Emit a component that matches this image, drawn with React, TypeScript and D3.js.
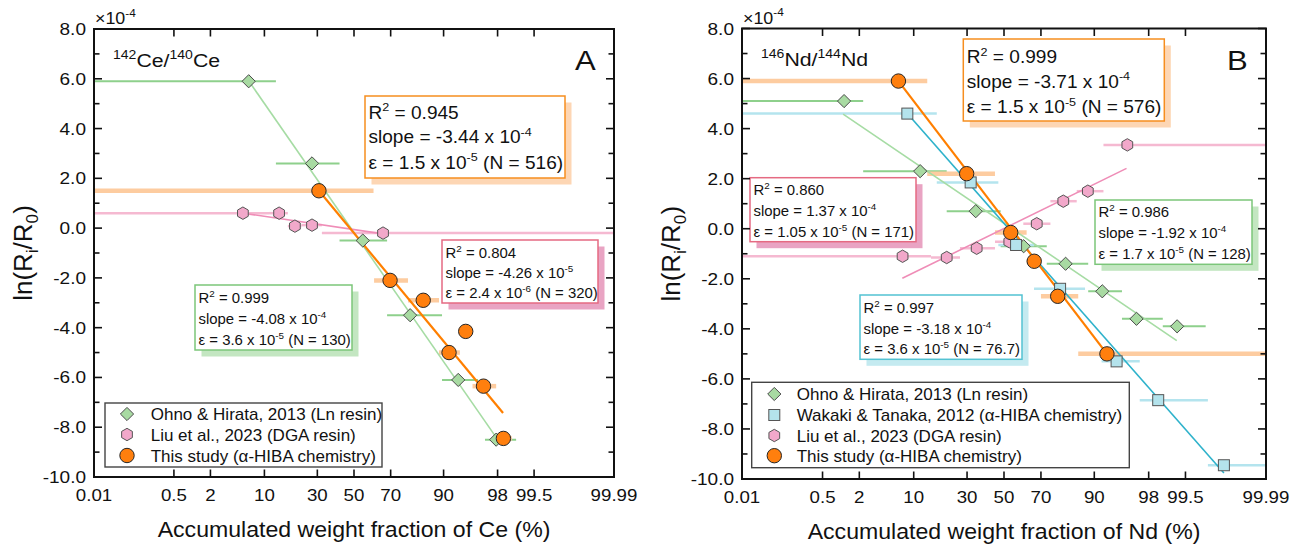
import React from "react";
import * as d3 from "d3";

// ---------- tick values ----------
const xTickValues = [0.01, 0.5, 2, 10, 30, 50, 70, 90, 98, 99.5, 99.99];
const xTickLabels = ["0.01", "0.5", "2", "10", "30", "50", "70", "90", "98", "99.5", "99.99"];
const yTickValues = [-10, -9, -8, -7, -6, -5, -4, -3, -2, -1, 0, 1, 2, 3, 4, 5, 6, 7, 8];
const yLabelValues = [-10, -8, -6, -4, -2, 0, 2, 4, 6, 8];

// ---------- Panel A: 142Ce/140Ce ----------
const ceOhnoX = [6.6, 27.4, 55.0, 78.9, 93.2, 97.9];
const ceOhnoY = [5.9, 2.6, -0.5, -3.5, -6.1, -8.5];
const ceOhnoLo = [0.01, 13.2, 41.8, 68.2, 89.6, 96.95];
const ceOhnoHi = [13.2, 41.8, 68.2, 89.6, 96.2, 98.98];
const ceOhnoFitX = [6.65, 98.16];
const ceOhnoFitY = [5.9, -8.63];

const ceLiuX = [5.6, 14.2, 19.9, 27.4, 66.1];
const ceLiuY = [0.6, 0.6, 0.08, 0.12, -0.2];
const ceLiuLo = [0.01, 11.2, 17.2, 22.6, 32.3];
const ceLiuHi = [11.2, 17.2, 22.6, 32.3, 99.99];
const ceLiuFitX = [5.6, 66.1];
const ceLiuFitY = [0.6, -0.23];

const ceThisX = [30.8, 69.7, 83.9, 91.3, 94.5, 96.8, 98.37];
const ceThisY = [1.5, -2.1, -2.9, -5.0, -4.15, -6.35, -8.45];
const ceThisLo = [0.01, 61.3, 78.0, 88.8, 93.5, 95.5, 97.9];
const ceThisHi = [61.0, 78.0, 88.8, 93.5, 95.5, 97.9, 98.8];
const ceThisFitX = [30.8, 98.35];
const ceThisFitY = [1.5, -7.43];

const ceThisStats = ["R^{2} = 0.945", "slope = -3.44 x 10^{-4}", "ε = 1.5 x 10^{-5} (N = 516)"];
const ceLiuStats = ["R^{2} = 0.804", "slope = -4.26 x 10^{-5}", "ε = 2.4 x 10^{-6} (N = 320)"];
const ceOhnoStats = ["R^{2} = 0.999", "slope = -4.08 x 10^{-4}", "ε = 3.6 x 10^{-5} (N = 130)"];

// ---------- Panel B: 146Nd/144Nd ----------
const ndOhnoX = [1.16, 11.7, 34.4, 61.0, 80.9, 91.85, 97.0, 99.3];
const ndOhnoY = [5.1, 2.3, 0.7, -0.7, -1.4, -2.5, -3.6, -3.9];
const ndOhnoLo = [0.01, 2.28, 20.8, 48.1, 72.8, 88.4, 95.3, 98.79];
const ndOhnoHi = [2.28, 20.8, 48.1, 72.8, 88.4, 95.3, 98.79, 99.79];
const ndOhnoFitX = [1.12, 99.29];
const ndOhnoFitY = [4.58, -4.47];

const ndWakakiX = [8.5, 31.8, 56.8, 78.7, 94.5, 98.57, 99.91];
const ndWakakiY = [4.6, 1.85, -0.65, -2.4, -5.3, -6.85, -9.45];
const ndWakakiLo = [0.01, 17.0, 46.8, 66.5, 91.7, 97.3, 99.81];
const ndWakakiHi = [17.0, 46.8, 66.5, 87.5, 97.3, 99.81, 99.99];
const ndWakakiFitX = [8.5, 99.91];
const ndWakakiFitY = [4.6, -9.76];

const ndLiuX = [7.5, 20.8, 34.9, 53.0, 67.9, 80.0, 88.3, 96.0];
const ndLiuY = [-1.1, -1.15, -0.78, -0.52, 0.2, 1.1, 1.5, 3.35];
const ndLiuLo = [0.01, 15.0, 26.6, 44.9, 60.8, 74.5, 84.9, 92.1];
const ndLiuHi = [15.0, 26.6, 44.9, 60.8, 74.5, 84.9, 92.1, 99.99];
const ndLiuFitX = [7.45, 95.9];
const ndLiuFitY = [-1.98, 2.41];

const ndThisX = [6.7, 29.8, 53.8, 66.6, 77.7, 92.8];
const ndThisY = [5.9, 2.2, -0.15, -1.3, -2.7, -5.0];
const ndThisLo = [0.01, 13.8, 44.9, 62.6, 70.0, 85.4];
const ndThisHi = [13.8, 44.9, 62.6, 70.0, 85.4, 99.99];
const ndThisFitX = [6.7, 92.8];
const ndThisFitY = [5.9, -5.0];

const ndThisStats = ["R^{2} = 0.999", "slope = -3.71 x 10^{-4}", "ε = 1.5 x 10^{-5} (N = 576)"];
const ndLiuStats = ["R^{2} = 0.860", "slope = 1.37 x 10^{-4}", "ε = 1.05 x 10^{-5} (N = 171)"];
const ndOhnoStats = ["R^{2} = 0.986", "slope = -1.92 x 10^{-4}", "ε = 1.7 x 10^{-5} (N = 128)"];
const ndWakakiStats = ["R^{2} = 0.997", "slope = -3.18 x 10^{-4}", "ε = 3.6 x 10^{-5} (N = 76.7)"];

const legendOhno = "Ohno & Hirata, 2013 (Ln resin)";
const legendWakaki = "Wakaki & Tanaka, 2012 (α-HIBA chemistry)";
const legendLiu = "Liu et al., 2023 (DGA resin)";
const legendThis = "This study (α-HIBA chemistry)";

// ---------- styles ----------
const FONT = '"Liberation Sans", Arial, Helvetica, sans-serif';
const STY: any = {
  ohno: { shape: "diamond", fill: "#A8DAA2", stroke: "#4a4a4a", bar: "#8ED08C", barW: 2, fit: "#A6DCA4", fitW: 1.6 },
  wakaki: { shape: "square", fill: "#B4E3EC", stroke: "#555", bar: "#B4E4EE", barW: 2.5, fit: "#2EB2CB", fitW: 1.6 },
  liu: { shape: "hex", fill: "#F2A8CA", stroke: "#555", bar: "#F5B9D1", barW: 2.5, fit: "#EF8DB7", fitW: 1.6 },
  this: { shape: "circle", fill: "#FF7F0E", stroke: "#262626", bar: "#FDCCA0", barW: 4.5, fit: "#FF7F00", fitW: 2.2 },
};
const BOX: any = {
  orange: { stroke: "#F68E1F", shadow: "#FDD6B4" },
  pink: { stroke: "#E56A82", shadow: "#E9A4C3" },
  green: { stroke: "#7CC67A", shadow: "#C3E6C1" },
  blue: { stroke: "#53C2D2", shadow: "#C4EAF0" },
};

// inverse normal CDF (probability axis)
function qnorm(p: number): number {
  const a = [-3.969683028665376e1, 2.209460984245205e2, -2.759285104469687e2, 1.38357751867269e2, -3.066479806614716e1, 2.506628277459239];
  const b = [-5.447609879822406e1, 1.615858368580409e2, -1.556989798598866e2, 6.680131188771972e1, -1.328068155288572e1];
  const c = [-7.784894002430293e-3, -3.223964580411365e-1, -2.400758277161838, -2.549732539343734, 4.374664141464968, 2.938163982698783];
  const d = [7.784695709041462e-3, 3.224671290700398e-1, 2.445134137142996, 3.754408661907416];
  const plow = 0.02425;
  if (p < plow) {
    const q = Math.sqrt(-2 * Math.log(p));
    return (((((c[0] * q + c[1]) * q + c[2]) * q + c[3]) * q + c[4]) * q + c[5]) / ((((d[0] * q + d[1]) * q + d[2]) * q + d[3]) * q + 1);
  }
  if (p <= 1 - plow) {
    const q = p - 0.5, r = q * q;
    return ((((((a[0] * r + a[1]) * r + a[2]) * r + a[3]) * r + a[4]) * r + a[5]) * q) / (((((b[0] * r + b[1]) * r + b[2]) * r + b[3]) * r + b[4]) * r + 1);
  }
  const q = Math.sqrt(-2 * Math.log(1 - p));
  return -(((((c[0] * q + c[1]) * q + c[2]) * q + c[3]) * q + c[4]) * q + c[5]) / ((((d[0] * q + d[1]) * q + d[2]) * q + d[3]) * q + 1);
}

function Rich({ x, y, size, sx = 1, anchor = "start", content, fill = "#111", rotate = 0, weight = "normal" }: any) {
  const parts = content.split(/(\^\{[^}]*\}|_\{[^}]*\})/).filter((s: string) => s.length);
  let pending = 0;
  const kids: any[] = [];
  parts.forEach((p: string, i: number) => {
    if (p.startsWith("^{")) {
      const sh = size * 0.42;
      kids.push(<tspan key={i} fontSize={size * 0.66} dy={pending - sh}>{p.slice(2, -1)}</tspan>);
      pending = sh;
    } else if (p.startsWith("_{")) {
      const sh = size * 0.22;
      kids.push(<tspan key={i} fontSize={size * 0.66} dy={pending + sh}>{p.slice(2, -1)}</tspan>);
      pending = -sh;
    } else {
      kids.push(<tspan key={i} dy={pending}>{p}</tspan>);
      pending = 0;
    }
  });
  const tr = rotate ? `translate(${x},${y}) rotate(${rotate}) scale(${sx},1)` : `translate(${x},${y}) scale(${sx},1)`;
  return (
    <text transform={tr} fontSize={size} textAnchor={anchor} fill={fill} fontFamily={FONT} fontWeight={weight}>
      {kids}
    </text>
  );
}

function Marker({ shape, cx, cy, fill, stroke }: any) {
  if (shape === "circle") return <circle cx={cx} cy={cy} r={7.2} fill={fill} stroke={stroke} strokeWidth={1} />;
  if (shape === "square") return <rect x={cx - 5.5} y={cy - 5.5} width={11} height={11} fill={fill} stroke={stroke} strokeWidth={1} />;
  if (shape === "diamond") {
    const s = 6.6;
    return <path d={`M${cx},${cy - s}L${cx + s},${cy}L${cx},${cy + s}L${cx - s},${cy}Z`} fill={fill} stroke={stroke} strokeWidth={1} />;
  }
  const r = 6.2;
  const pts = d3.range(6).map((k) => {
    const a = (Math.PI / 3) * k - Math.PI / 2;
    return [cx + r * Math.cos(a), cy + r * Math.sin(a)];
  });
  return <path d={"M" + pts.map((p) => p.join(",")).join("L") + "Z"} fill={fill} stroke={stroke} strokeWidth={1} />;
}

function Panel({ cfg }: any) {
  const { L, R, T, B } = cfg;
  const xs = d3.scaleLinear().domain([qnorm(0.0001), qnorm(0.9999)]).range([L, R]);
  const px = (p: number) => xs(qnorm(p / 100));
  const y = d3.scaleLinear().domain([-10, 8]).range([B, T]);
  const innerTicks = xTickValues.slice(1, -1);
  return (
    <g>
      {/* error bars */}
      {cfg.series.map((s: any, si: number) => (
        <g key={"b" + si}>
          {s.x.map((_: number, i: number) => (
            <line key={i} x1={px(s.lo[i])} x2={px(s.hi[i])} y1={y(s.y[i])} y2={y(s.y[i])} stroke={STY[s.k].bar} strokeWidth={STY[s.k].barW} />
          ))}
        </g>
      ))}
      {/* fits */}
      {cfg.series.map((s: any, si: number) => (
        <line key={"f" + si} x1={px(s.fx[0])} x2={px(s.fx[1])} y1={y(s.fy[0])} y2={y(s.fy[1])} stroke={STY[s.k].fit} strokeWidth={STY[s.k].fitW} />
      ))}
      {/* markers */}
      {cfg.series.map((s: any, si: number) => (
        <g key={"m" + si}>
          {s.x.map((v: number, i: number) => (
            <Marker key={i} shape={STY[s.k].shape} cx={px(v)} cy={y(s.y[i])} fill={STY[s.k].fill} stroke={STY[s.k].stroke} />
          ))}
        </g>
      ))}
      {/* annotation boxes */}
      {cfg.boxes.map((b: any, bi: number) => (
        <g key={"x" + bi}>
          <rect x={b.x + 6.5} y={b.y + 6.5} width={b.w} height={b.h} fill={BOX[b.c].shadow} />
          <rect x={b.x} y={b.y} width={b.w} height={b.h} fill="#fff" stroke={BOX[b.c].stroke} strokeWidth={1.5} />
          {b.lines.map((t: string, i: number) => (
            <Rich key={i} x={b.x + 3.5} y={b.base[i]} size={b.size} sx={b.sx} content={t} />
          ))}
        </g>
      ))}
      {/* legend */}
      <rect x={cfg.leg.x} y={cfg.leg.y} width={cfg.leg.w} height={cfg.leg.h} fill="#fff" stroke="#444" strokeWidth={1.4} />
      {cfg.leg.items.map((it: any, i: number) => {
        const cy = cfg.leg.rows[i];
        return (
          <g key={"l" + i}>
            <Marker shape={STY[it.k].shape} cx={cfg.leg.sx} cy={cy} fill={STY[it.k].fill} stroke={STY[it.k].stroke} />
            <Rich x={cfg.leg.tx} y={cy + 6} size={17} sx={1.0} content={it.label} />
          </g>
        );
      })}
      {/* frame */}
      <rect x={L} y={T} width={R - L} height={B - T} fill="none" stroke="#111" strokeWidth={2} />
      {/* y ticks */}
      {yTickValues.map((v) => {
        const major = v % 2 === 0;
        const len = major ? 8 : 5.5;
        return (
          <g key={"yt" + v}>
            <line x1={L} x2={L + len} y1={y(v)} y2={y(v)} stroke="#111" strokeWidth={1.6} />
            <line x1={R} x2={R - len} y1={y(v)} y2={y(v)} stroke="#111" strokeWidth={1.6} />
          </g>
        );
      })}
      {yLabelValues.map((v) => (
        <Rich key={"yl" + v} x={L - 8} y={y(v) + 6} size={17} sx={1.12} anchor="end" content={v.toFixed(1)} />
      ))}
      {/* x ticks */}
      {innerTicks.map((p) => (
        <g key={"xt" + p}>
          <line x1={px(p)} x2={px(p)} y1={B} y2={B - 7.5} stroke="#111" strokeWidth={1.6} />
          <line x1={px(p)} x2={px(p)} y1={T} y2={T + 7.5} stroke="#111" strokeWidth={1.6} />
        </g>
      ))}
      {xTickValues.map((p, i) => (
        <Rich key={"xl" + i} x={px(p)} y={B + 23.5} size={17} sx={1.1} anchor="middle" content={xTickLabels[i]} />
      ))}
      {/* titles */}
      <Rich x={(L + R) / 2} y={B + 59.5} size={22} sx={1.05} anchor="middle" content={cfg.xTitle} />
      <Rich x={L - 62} y={(T + B) / 2} size={26} rotate={-90} anchor="middle" content={"ln(R_{i}/R_{0})"} />
      <Rich x={L + 1} y={T - 5} size={17} sx={1.05} content={"×10^{-4}"} />
      <Rich x={L + 19} y={T + 37.5} size={19} sx={1.12} content={cfg.iso} />
      <Rich x={R - 39} y={T + 41} size={27} sx={1.15} content={cfg.letter} />
    </g>
  );
}

const panelA = {
  L: 94, R: 614, T: 29, B: 477,
  xTitle: "Accumulated weight fraction of Ce (%)",
  iso: "^{142}Ce/^{140}Ce",
  letter: "A",
  series: [
    { k: "ohno", x: ceOhnoX, y: ceOhnoY, lo: ceOhnoLo, hi: ceOhnoHi, fx: ceOhnoFitX, fy: ceOhnoFitY },
    { k: "liu", x: ceLiuX, y: ceLiuY, lo: ceLiuLo, hi: ceLiuHi, fx: ceLiuFitX, fy: ceLiuFitY },
    { k: "this", x: ceThisX, y: ceThisY, lo: ceThisLo, hi: ceThisHi, fx: ceThisFitX, fy: ceThisFitY },
  ],
  boxes: [
    { c: "orange", x: 365, y: 96, w: 200, h: 82, size: 17.5, sx: 1.09, lines: ceThisStats, base: [118.5, 143, 168.5] },
    { c: "pink", x: 442, y: 240, w: 156, h: 63, size: 14.5, sx: 1.03, lines: ceLiuStats, base: [258.3, 278.3, 298.3] },
    { c: "green", x: 195, y: 285, w: 157, h: 65, size: 14.5, sx: 1.03, lines: ceOhnoStats, base: [303.3, 323.8, 345] },
  ],
  leg: {
    x: 105, y: 403, w: 277, h: 64, sx: 127, tx: 150.7, rows: [414, 434.5, 455.5],
    items: [{ k: "ohno", label: legendOhno }, { k: "liu", label: legendLiu }, { k: "this", label: legendThis }],
  },
};

const panelB = {
  L: 742, R: 1266, T: 28.5, B: 479,
  xTitle: "Accumulated weight fraction of Nd (%)",
  iso: "^{146}Nd/^{144}Nd",
  letter: "B",
  series: [
    { k: "ohno", x: ndOhnoX, y: ndOhnoY, lo: ndOhnoLo, hi: ndOhnoHi, fx: ndOhnoFitX, fy: ndOhnoFitY },
    { k: "liu", x: ndLiuX, y: ndLiuY, lo: ndLiuLo, hi: ndLiuHi, fx: ndLiuFitX, fy: ndLiuFitY },
    { k: "wakaki", x: ndWakakiX, y: ndWakakiY, lo: ndWakakiLo, hi: ndWakakiHi, fx: ndWakakiFitX, fy: ndWakakiFitY },
    { k: "this", x: ndThisX, y: ndThisY, lo: ndThisLo, hi: ndThisHi, fx: ndThisFitX, fy: ndThisFitY },
  ],
  boxes: [
    { c: "orange", x: 963.3, y: 39, w: 201, h: 82, size: 17.5, sx: 1.09, lines: ndThisStats, base: [63.3, 87.5, 113] },
    { c: "pink", x: 750, y: 177.7, w: 166, h: 64, size: 14.5, sx: 1.03, lines: ndLiuStats, base: [195, 216, 236.7] },
    { c: "green", x: 1095, y: 200, w: 157, h: 64.3, size: 14.5, sx: 1.03, lines: ndOhnoStats, base: [217.3, 238.3, 259.3] },
    { c: "blue", x: 860, y: 295, w: 162, h: 64.3, size: 14.5, sx: 1.03, lines: ndWakakiStats, base: [312.7, 334, 354] },
  ],
  leg: {
    x: 751.7, y: 382.3, w: 377.6, h: 85.4, sx: 774.3, tx: 796.7, rows: [394, 415, 435.5, 455.7],
    items: [{ k: "ohno", label: legendOhno }, { k: "wakaki", label: legendWakaki }, { k: "liu", label: legendLiu }, { k: "this", label: legendThis }],
  },
};

export default function App() {
  return (
    <svg width={1305} height={549} viewBox="0 0 1305 549" style={{ position: "absolute", left: 0, top: 0, display: "block", background: "#fff" }}>
      <rect x={0} y={0} width={1305} height={549} fill="#fff" />
      <Panel cfg={panelA} />
      <Panel cfg={panelB} />
    </svg>
  );
}
